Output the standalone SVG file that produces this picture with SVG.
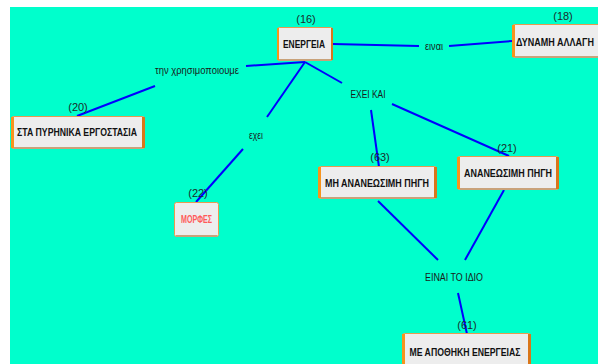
<svg xmlns="http://www.w3.org/2000/svg" width="598" height="364" viewBox="0 0 598 364">
  <style>
    .bg { fill: #00FFCC; }
    .link { stroke: #0000FF; stroke-width: 2; fill: none; }
    .box { fill: #EDEDED; stroke: #E89A50; stroke-width: 1; }
    .edgeL { fill: #F7941D; }
    .edgeR { fill: #D9761A; }
    .shade { fill: #C9A27A; }
    .name { font-family: "Liberation Sans", Arial, sans-serif; font-size: 11px; font-weight: bold; fill: #111; text-anchor: middle; }
    .red { fill: #FF5A5A; }
    .num { font-family: "Liberation Sans", Arial, sans-serif; font-size: 11px; fill: #1b2b2b; text-anchor: middle; }
    .lbl { font-family: "Liberation Sans", Arial, sans-serif; font-size: 11px; fill: #1a1a1a; text-anchor: middle; }
  </style>
  <defs>
    <linearGradient id="boxFill" x1="0" y1="0" x2="0" y2="1">
      <stop offset="0" stop-color="#FAFAFA"/>
      <stop offset="1" stop-color="#E6E6E6"/>
    </linearGradient>
  </defs>

  <rect x="0" y="0" width="598" height="364" fill="#FFFFFF"/>
  <rect class="bg" x="10" y="7" width="588" height="357"/>

  <g id="connectors">
    <line class="link" x1="333" y1="44" x2="419" y2="46"/>
    <line class="link" x1="449" y1="46" x2="512" y2="41"/>
    <line class="link" x1="305" y1="62" x2="246" y2="66"/>
    <line class="link" x1="155" y1="86" x2="77" y2="116"/>
    <line class="link" x1="305" y1="62" x2="267" y2="117"/>
    <line class="link" x1="243" y1="149" x2="196" y2="202"/>
    <line class="link" x1="305" y1="62" x2="342" y2="83"/>
    <line class="link" x1="371" y1="110" x2="379" y2="167"/>
    <line class="link" x1="392" y1="104" x2="509" y2="156"/>
    <line class="link" x1="378" y1="201" x2="438" y2="260"/>
    <line class="link" x1="504" y1="190" x2="465" y2="260"/>
    <line class="link" x1="458" y1="293" x2="467" y2="334"/>
  </g>

  <g id="labels">
    <text class="lbl" x="434" y="50" textLength="18" lengthAdjust="spacingAndGlyphs">ειναι</text>
    <text class="lbl" x="197" y="74" textLength="84" lengthAdjust="spacingAndGlyphs">την χρησιμοποιουμε</text>
    <text class="lbl" x="256" y="139" textLength="14" lengthAdjust="spacingAndGlyphs">εχει</text>
    <text class="lbl" x="368" y="98" textLength="35" lengthAdjust="spacingAndGlyphs">ΕΧΕΙ ΚΑΙ</text>
    <text class="lbl" x="454" y="281" textLength="58" lengthAdjust="spacingAndGlyphs">ΕΙΝΑΙ ΤΟ ΙΔΙΟ</text>
  </g>

  <g id="node16">
    <rect class="box" x="277.5" y="27.5" width="55" height="33" rx="2" fill="url(#boxFill)"/>
    <rect class="edgeL" x="277" y="28" width="2" height="32"/>
    <rect class="edgeR" x="331" y="28" width="2" height="32"/>
    <rect class="shade" x="279" y="59" width="52" height="2"/>
    <text class="name" x="304" y="48" textLength="42" lengthAdjust="spacingAndGlyphs">ΕΝΕΡΓΕΙΑ</text>
    <text class="num" x="306" y="23">(16)</text>
  </g>

  <g id="node18">
    <rect class="box" x="512.5" y="24.5" width="92" height="33" rx="2" fill="url(#boxFill)"/>
    <rect class="edgeL" x="512" y="25" width="3" height="32"/>
    <rect class="shade" x="515" y="56" width="90" height="2"/>
    <text class="name" transform="translate(555 46) scale(0.82 1)">ΔΥΝΑΜΗ ΑΛΛΑΓΗ</text>
    <text class="num" x="563" y="20">(18)</text>
  </g>

  <g id="node20">
    <rect class="box" x="11.5" y="116.5" width="133" height="32" rx="2" fill="url(#boxFill)"/>
    <rect class="edgeL" x="11" y="117" width="3" height="31"/>
    <rect class="edgeR" x="142" y="117" width="3" height="31"/>
    <rect class="shade" x="14" y="147" width="128" height="2"/>
    <text class="name" x="77" y="136" textLength="120" lengthAdjust="spacingAndGlyphs">ΣΤΑ ΠΥΡΗΝΙΚΑ ΕΡΓΟΣΤΑΣΙΑ</text>
    <text class="num" x="78" y="111">(20)</text>
  </g>

  <g id="node22">
    <rect class="box" x="174.5" y="202.5" width="44" height="34" rx="2" fill="url(#boxFill)"/>
    <rect class="shade" x="176" y="235" width="41" height="2"/>
    <text class="name red" x="196.5" y="223" textLength="31" lengthAdjust="spacingAndGlyphs">ΜΟΡΦΕΣ</text>
    <text class="num" x="198" y="197">(22)</text>
  </g>

  <g id="node63">
    <rect class="box" x="318.5" y="166.5" width="118" height="32" rx="2" fill="url(#boxFill)"/>
    <rect class="edgeL" x="318" y="167" width="3" height="31"/>
    <rect class="edgeR" x="434" y="167" width="3" height="31"/>
    <rect class="shade" x="321" y="197" width="113" height="2"/>
    <text class="name" x="377" y="187" textLength="104" lengthAdjust="spacingAndGlyphs">ΜΗ ΑΝΑΝΕΩΣΙΜΗ ΠΗΓΗ</text>
    <text class="num" x="380" y="161">(63)</text>
  </g>

  <g id="node21">
    <rect class="box" x="457.5" y="156.5" width="101" height="33" rx="2" fill="url(#boxFill)"/>
    <rect class="edgeL" x="457" y="157" width="3" height="32"/>
    <rect class="edgeR" x="556" y="157" width="3" height="32"/>
    <rect class="shade" x="460" y="188" width="96" height="2"/>
    <text class="name" x="508" y="177" textLength="88" lengthAdjust="spacingAndGlyphs">ΑΝΑΝΕΩΣΙΜΗ ΠΗΓΗ</text>
    <text class="num" x="507" y="152">(21)</text>
  </g>

  <g id="node61">
    <rect class="box" x="402.5" y="333.5" width="128" height="34" rx="2" fill="url(#boxFill)"/>
    <rect class="edgeL" x="402" y="334" width="3" height="31"/>
    <rect class="edgeR" x="528" y="334" width="3" height="31"/>
    <text class="name" x="465" y="356" textLength="111" lengthAdjust="spacingAndGlyphs">ΜΕ ΑΠΟΘΗΚΗ ΕΝΕΡΓΕΙΑΣ</text>
    <text class="num" x="467" y="329">(61)</text>
  </g>
</svg>
